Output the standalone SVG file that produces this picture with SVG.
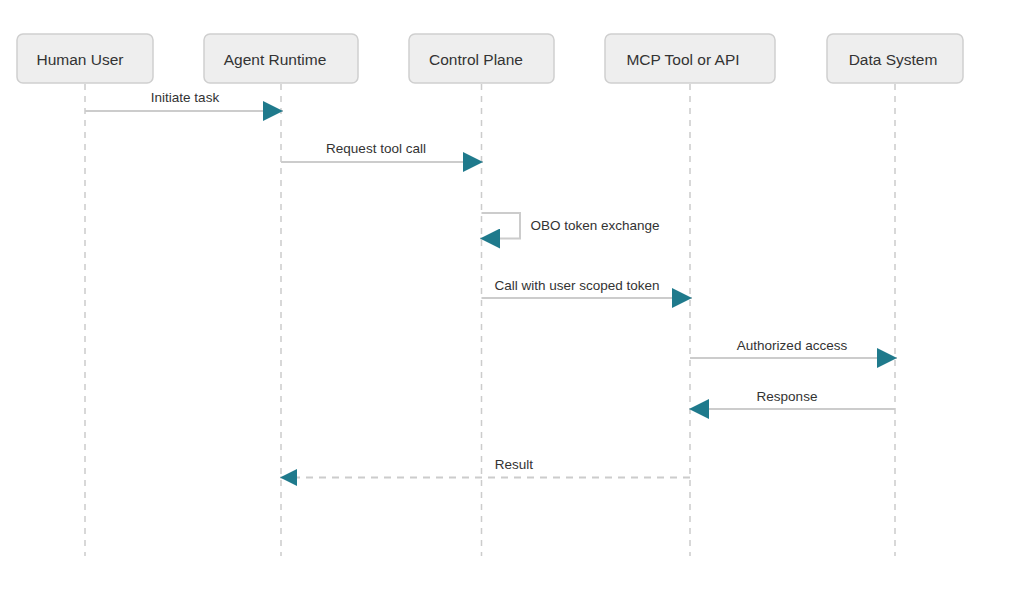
<svg xmlns="http://www.w3.org/2000/svg" width="1023" height="597" viewBox="0 0 1023 597">
<style>
.actor rect{fill:#eeeeee;stroke:#cfcfcf;stroke-width:1.5}
.actor text{font-family:"Liberation Sans",Arial,sans-serif;font-size:15.5px;fill:#333;text-anchor:middle;dominant-baseline:central}
.life{stroke:#cccccc;stroke-width:1.5;stroke-dasharray:6 6;fill:none}
.msg{stroke:#cccccc;stroke-width:2;fill:none}
.dash{stroke-dasharray:7 6}
.lbl{font-family:"Liberation Sans",Arial,sans-serif;font-size:13.5px;fill:#333;text-anchor:middle}
</style>
<defs>
<marker id="ah" markerUnits="userSpaceOnUse" markerWidth="20" markerHeight="20" refX="20" refY="10" orient="auto" viewBox="0 0 20 20">
<path d="M0,0 L20,10 L0,20 z" fill="#1f7a8c"/>
</marker>
<marker id="ahs" markerUnits="userSpaceOnUse" markerWidth="17" markerHeight="17" refX="17" refY="8.5" orient="auto" viewBox="0 0 17 17">
<path d="M0,0 L17,8.5 L0,17 z" fill="#1f7a8c"/>
</marker>
</defs>
<rect width="1023" height="597" fill="#ffffff"/>
<g id="lifelines">
<line class="life" x1="85" y1="84" x2="85" y2="556"/>
<line class="life" x1="281" y1="84" x2="281" y2="556"/>
<line class="life" x1="481.5" y1="84" x2="481.5" y2="556"/>
<line class="life" x1="690" y1="84" x2="690" y2="556"/>
<line class="life" x1="895" y1="84" x2="895" y2="556"/>
</g>
<g id="human-user" class="actor"><rect x="17" y="34" width="136" height="49" rx="6"/><text x="80" y="59">Human User</text></g>
<g id="agent-runtime" class="actor"><rect x="204" y="34" width="154" height="49" rx="6"/><text x="275" y="59">Agent Runtime</text></g>
<g id="control-plane" class="actor"><rect x="409" y="34" width="145" height="49" rx="6"/><text x="476" y="59">Control Plane</text></g>
<g id="mcp-tool" class="actor"><rect x="605" y="34" width="170" height="49" rx="6"/><text x="683" y="59">MCP Tool or API</text></g>
<g id="data-system" class="actor"><rect x="827" y="34" width="136" height="49" rx="6"/><text x="893" y="59">Data System</text></g>
<g id="connectors">
<line class="msg" x1="85" y1="111" x2="283" y2="111" marker-end="url(#ah)"/>
<text class="lbl" x="185" y="102">Initiate task</text>
<line class="msg" x1="281" y1="162" x2="483" y2="162" marker-end="url(#ah)"/>
<text class="lbl" x="376" y="153">Request tool call</text>
<path class="msg" d="M481.5,213 L520,213 L520,238.5 L480,238.5" marker-end="url(#ah)"/>
<text class="lbl" x="595" y="230">OBO token exchange</text>
<line class="msg" x1="481.5" y1="298" x2="692" y2="298" marker-end="url(#ah)"/>
<text class="lbl" x="577" y="290">Call with user scoped token</text>
<line class="msg" x1="690" y1="358" x2="897" y2="358" marker-end="url(#ah)"/>
<text class="lbl" x="792" y="350">Authorized access</text>
<line class="msg" x1="895" y1="409" x2="689" y2="409" marker-end="url(#ah)"/>
<text class="lbl" x="787" y="401">Response</text>
<line class="msg dash" x1="690" y1="477.5" x2="280" y2="477.5" marker-end="url(#ahs)"/>
<text class="lbl" x="514" y="469">Result</text>
</g>
</svg>
